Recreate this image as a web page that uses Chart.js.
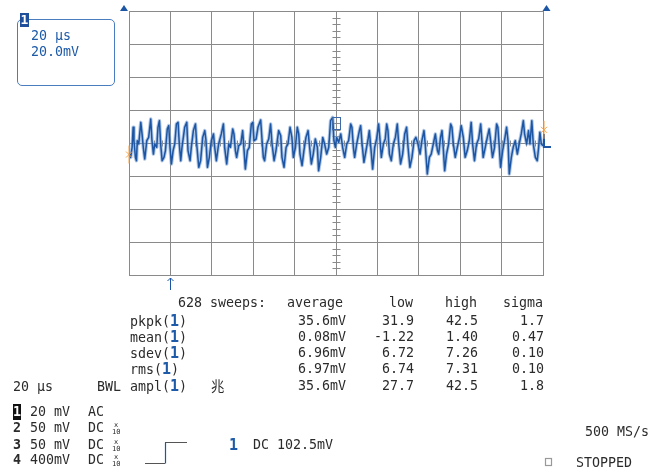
<!DOCTYPE html>
<html>
<head>
<meta charset="utf-8">
<script src="https://cdn.jsdelivr.net/npm/chart.js@4.4.1/dist/chart.umd.min.js"></script>
<style>
body { margin: 0; background: #fff; }
#wrap { position: relative; width: 654px; height: 472px; overflow: hidden;
        font-family: "DejaVu Sans Mono", monospace; font-size: 13.3px; color: #2b2b2b; }
#wrap canvas { position: absolute; left: 0; top: 0; }
.t { position: absolute; white-space: pre; line-height: 16px; }
.blue { color: #1d5aa8; }
.one { color: #1d5aa8; font-weight: bold; font-size: 15px; }
#box { position: absolute; left: 17px; top: 19px; width: 96px; height: 65px;
       border: 1.5px solid #4a7cc0; border-radius: 5px; }
#badge { position: absolute; left: 20px; top: 13px; width: 9px; height: 14px; background: #1f4f9a;
         color: #fff; font-weight: bold; font-size: 13px; line-height: 14px; text-align: center; }
.inv { background: #111; color: #fff; font-weight: bold; }
.x10 { position: absolute; font-size: 7px; line-height: 7px; text-align: center; width: 8px; }
</style>
</head>
<body>
<div id="wrap">
  <canvas id="scope" width="654" height="472"></canvas>
  <div id="box"></div>
  <div id="badge">1</div>
</div>
<script>
// acquired trace, channel 1 (time in µs, voltage in mV)
var timeUs = [
    0, 0.8, 1.5, 2.0, 2.4, 3.1, 3.6, 4.0, 4.7, 5.7,
    6.3, 6.9, 7.6, 8.6, 9.5, 10.5, 11.1, 11.8, 12.4, 13.4,
    14.0, 14.7, 15.3, 16.0, 16.9, 17.6, 18.5, 19.2, 19.8, 20.5,
    21.3, 22.1, 22.9, 23.7, 24.3, 25.0, 25.6, 26.9, 27.9, 28.5,
    29.5, 30.1, 31.1, 32.1, 32.7, 33.7, 34.6, 35.6, 36.6, 37.2,
    37.9, 38.8, 39.8, 40.8, 41.4, 42.2, 43.3, 44.6, 45.6, 46.2,
    47.2, 48.2, 49.0, 50.1, 50.7, 51.4, 52.0, 53.0, 54.0, 54.9,
    55.6, 56.2, 57.2, 58.1, 59.1, 59.8, 60.4, 61.4, 62.3, 63.6,
    64.3, 64.9, 65.5, 66.5, 67.5, 68.4, 69.1, 70.1, 71.0, 72.3,
    73.3, 73.9, 74.9, 75.9, 76.8, 77.8, 78.7, 79.4, 80.4, 81.3,
    82.0, 82.6, 83.6, 84.5, 85.5, 86.5, 87.1, 88.1, 89.0, 90.0,
    91.0, 91.6, 92.6, 93.6, 94.5, 95.5, 96.5, 97.4, 98.4, 99.0,
    99.7, 100.3, 101.3, 102.3, 103.2, 104.2, 105.2, 106.1, 107.1, 107.7,
    108.4, 109.0, 110.0, 111.3, 111.9, 112.6, 113.5, 114.5, 115.5, 116.1,
    117.1, 117.7, 118.7, 119.6, 120.6, 121.3, 121.9, 122.9, 123.8, 124.5,
    125.1, 125.8, 126.7, 127.7, 128.7, 129.6, 130.3, 131.2, 132.2, 133.2,
    134.1, 134.8, 135.7, 136.7, 137.7, 138.6, 139.6, 140.6, 141.5, 142.5,
    143.1, 144.1, 145.1, 146.0, 147.0, 148.0, 149.0, 149.6, 150.5, 151.2,
    151.8, 152.5, 153.4, 154.4, 155.4, 156.0, 156.7, 157.6, 158.6, 159.5,
    160.5, 161.5, 162.4, 163.4, 164.4, 165.3, 166.0, 166.9, 167.9, 168.9,
    169.9, 170.5, 171.1, 172.1, 173.1, 174.0, 174.7, 175.6, 176.6, 177.6,
    178.2, 178.9, 179.5, 180.5, 181.4, 182.4, 183.1, 183.7, 184.7, 185.6,
    186.6, 187.6, 188.5, 189.5, 190.5, 191.1, 192.1, 193.0, 193.7, 194.6,
    195.3, 196.3, 197.2, 197.9, 198.5, 199.2, 200.0
];
var traceMv = [
    -6.0, -8.7, -2.6, 9.5, 1.4, -8.7, -10.7, 1.4, -0.6, 12.5,
    5.5, -2.6, -9.7, 1.4, 3.4, 14.5, 1.4, -6.7, -0.6, -2.6,
    9.5, 13.5, -0.6, -10.7, -8.7, -4.6, 8.5, 10.5, -2.6, -12.7,
    -4.6, -0.6, 11.5, 12.5, -0.6, -10.7, -2.6, 9.5, 12.5, -4.6,
    -10.7, -2.6, 7.5, 11.5, -0.6, -14.7, -10.7, 3.4, 7.5, 1.4,
    -14.7, -8.7, 1.4, 5.5, -2.6, -10.7, -0.6, 5.5, 11.5, -2.6,
    -12.7, -0.6, -2.6, 8.5, 5.5, -4.6, -8.7, -1.6, -0.6, 7.5,
    -4.6, -15.8, -4.6, -2.6, 11.5, 12.5, 1.4, 2.4, 9.5, 13.9,
    1.4, -8.7, -10.7, -0.6, 2.4, 11.5, -0.6, -10.7, -4.6, 7.5,
    4.4, -8.7, -14.7, -2.6, -0.6, 9.5, 3.4, -8.7, -2.6, 9.5,
    5.5, -6.7, -13.7, -4.6, 3.4, 7.5, -0.6, -12.7, -6.7, 2.4,
    -2.6, -16.8, -8.7, 3.4, -0.6, -6.7, -2.6, 13.5, 15.5, 1.4,
    -2.6, 3.4, 0.4, 5.5, -2.6, -8.7, -0.6, 1.4, 11.5, 9.5,
    -2.6, -8.7, -0.6, 7.5, 10.5, -0.6, -11.7, -4.6, 2.4, 7.5,
    -6.7, -15.8, -2.6, 2.4, 11.5, 1.4, -8.7, -0.6, 2.4, 11.5,
    7.5, -6.7, -10.7, -0.6, 3.4, 11.5, -0.6, -12.7, -6.7, 5.5,
    9.5, -2.6, -14.7, -8.7, 1.4, 3.4, -0.6, -6.7, 1.4, 7.5,
    -0.6, -18.8, -8.7, -6.7, -0.6, 5.5, -4.6, -6.7, 3.4, 7.5,
    -2.6, -16.8, -6.7, -0.6, 11.5, 9.5, -0.6, -8.7, -2.6, 2.4,
    10.5, 3.4, -8.7, -4.6, 1.4, 12.5, -0.6, -10.7, -0.6, 2.4,
    11.5, 1.4, -8.7, -2.6, 3.4, 8.5, 1.4, -8.7, -2.6, 11.5,
    9.5, -2.6, -14.7, -4.6, 1.4, 9.5, 1.4, -18.8, -8.7, -2.6,
    1.4, -6.7, -0.6, 5.5, 13.5, 5.5, -0.6, 7.5, -0.6, 13.5,
    -0.6, -8.7, -10.7, -2.6, 6.5, -0.6, -1.6
];

// measurement table
var sweeps = 628;
var measNames = ['pkpk', 'mean', 'sdev', 'rms', 'ampl'];
var measAverage = ['35.6mV', '0.08mV', '6.96mV', '6.97mV', '35.6mV'];
var measLow = ['31.9', '-1.22', '6.72', '6.74', '27.7'];
var measHigh = ['42.5', '1.40', '7.26', '7.31', '42.5'];
var measSigma = ['1.7', '0.47', '0.10', '0.10', '1.8'];

// channel setup
var chanScale = ['20 mV', '50 mV', '50 mV', '400mV'];
var chanCoupling = ['AC', 'DC', 'DC', 'DC'];
var chanProbe = [false, true, true, true];

var wrap = document.getElementById('wrap');

function addText(html, x, cy, cls, alignRight) {
    var el = document.createElement('div');
    el.className = 't' + (cls ? ' ' + cls : '');
    el.innerHTML = html;
    el.style.top = (cy - 8) + 'px';
    if (alignRight) {
        el.style.right = (654 - x) + 'px';
    } else {
        el.style.left = x + 'px';
    }
    wrap.appendChild(el);
    return el;
}

// timebase box
addText('20 µs', 31, 36, 'blue');
addText('20.0mV', 31, 52, 'blue');

// table
var rowY = [321, 337, 353, 369, 386];
addText(sweeps + ' sweeps:', 178, 303);
addText('average', 287, 303);
addText('low', 389, 303);
addText('high', 445, 303);
addText('sigma', 503, 303);
for (var i = 0; i < measNames.length; i++) {
    addText(measNames[i] + '(<span class="one">1</span>)', 130, rowY[i]);
    addText(measAverage[i], 346, rowY[i], '', true);
    addText(measLow[i], 414, rowY[i], '', true);
    addText(measHigh[i], 478, rowY[i], '', true);
    addText(measSigma[i], 544, rowY[i], '', true);
}
addText('兆', 211, 386).style.fontFamily = '"Noto Sans CJK SC"';

addText('20 µs', 13, 387);
addText('BWL', 97, 387);

var chanY = [412, 428, 445, 460];
for (var c = 0; c < 4; c++) {
    if (c == 0) {
        addText('1', 13, chanY[c], 'inv');
    } else {
        addText(String(c + 1), 13, chanY[c]).style.fontWeight = 'bold';
    }
    addText(chanScale[c], 30, chanY[c]);
    addText(chanCoupling[c], 88, chanY[c]);
    if (chanProbe[c]) {
        var p = document.createElement('div');
        p.className = 'x10';
        p.innerHTML = 'x<br>10';
        p.style.left = '112px';
        p.style.top = (chanY[c] - 6) + 'px';
        wrap.appendChild(p);
    }
}
addText('1', 229, 445, 'one');
addText('DC 102.5mV', 253, 445);
addText('500 MS/s', 585, 432);
addText('STOPPED', 576, 463);

var points = timeUs.map(function(t, k) { return {x: t, y: traceMv[k]}; });

var gridGrey = '#8a8a8a';
var blue = '#1b55a3';

// center-axis minor ticks and screen markers
var scopeMarks = {
    id: 'scopeMarks',
    beforeDatasetsDraw: function(chart) {
        var ctx = chart.ctx, x = chart.scales.x, y = chart.scales.y;
        var cx = Math.round(x.getPixelForValue(100)) + 0.5;
        var cy = Math.round(y.getPixelForValue(0)) + 0.5;
        ctx.save();
        ctx.strokeStyle = gridGrey;
        ctx.lineWidth = 1;
        ctx.beginPath();
        for (var t = 4; t < 200; t += 4) {
            var px = Math.round(x.getPixelForValue(t)) + 0.5;
            ctx.moveTo(px, cy - 3);
            ctx.lineTo(px, cy + 3);
        }
        for (var v = -76; v < 80; v += 4) {
            var py = Math.round(y.getPixelForValue(v)) + 0.5;
            ctx.moveTo(cx - 4, py);
            ctx.lineTo(cx + 4, py);
        }
        ctx.stroke();
        ctx.restore();
    },
    afterDraw: function(chart) {
        var ctx = chart.ctx, a = chart.chartArea, x = chart.scales.x, y = chart.scales.y;
        var cy = y.getPixelForValue(0);
        ctx.save();
        // top triangles
        ctx.fillStyle = blue;
        [a.left - 5, a.right + 3.5].forEach(function(tx) {
            ctx.beginPath();
            ctx.moveTo(tx - 4, a.top);
            ctx.lineTo(tx + 4, a.top);
            ctx.lineTo(tx, a.top - 6);
            ctx.closePath();
            ctx.fill();
        });
        // trigger arrow under graticule
        var ax = Math.round(x.getPixelForValue(20)) + 0.5;
        ctx.strokeStyle = blue;
        ctx.lineWidth = 1;
        ctx.beginPath();
        ctx.moveTo(ax, a.bottom + 3);
        ctx.lineTo(ax, a.bottom + 15);
        ctx.moveTo(ax - 3, a.bottom + 6);
        ctx.lineTo(ax, a.bottom + 3);
        ctx.lineTo(ax + 3, a.bottom + 6);
        ctx.stroke();
        // center marker box
        var bx = x.getPixelForValue(100);
        ctx.strokeStyle = '#3d6aa8';
        ctx.strokeRect(Math.round(bx) - 3.5, Math.round(y.getPixelForValue(15.5)) + 0.5, 8, 12);
        // channel ground marker right
        ctx.strokeStyle = blue;
        ctx.lineWidth = 2;
        ctx.beginPath();
        ctx.moveTo(a.right + 1, cy - 9);
        ctx.lineTo(a.right + 1, cy + 4);
        ctx.lineTo(a.right + 8, cy + 4);
        ctx.stroke();
        // trigger level markers (orange)
        ctx.strokeStyle = '#f4a24a';
        ctx.lineWidth = 1;
        [[a.left, y.getPixelForValue(-7)], [a.right + 1, y.getPixelForValue(8)]].forEach(function(m) {
            ctx.beginPath();
            ctx.moveTo(m[0], m[1] - 9);
            ctx.lineTo(m[0], m[1] + 9);
            ctx.moveTo(m[0] - 3, m[1] - 3);
            ctx.lineTo(m[0] + 3, m[1] + 3);
            ctx.moveTo(m[0] - 3, m[1] + 3);
            ctx.lineTo(m[0] + 3, m[1] - 3);
            ctx.stroke();
        });
        // trigger slope symbol
        ctx.lineWidth = 1.2;
        ctx.strokeStyle = '#555';
        ctx.beginPath();
        ctx.moveTo(145, 463.5);
        ctx.lineTo(165, 463.5);
        ctx.moveTo(165, 442.5);
        ctx.lineTo(187, 442.5);
        ctx.stroke();
        ctx.strokeStyle = blue;
        ctx.beginPath();
        ctx.moveTo(165.5, 463.5);
        ctx.lineTo(165.5, 442.5);
        ctx.stroke();
        // stopped indicator square
        ctx.strokeStyle = '#999';
        ctx.strokeRect(545.5, 458.5, 6, 7);
        ctx.restore();
    }
};

var ctx = document.getElementById('scope').getContext('2d');
var scopeChart = new Chart(ctx, {
    type: 'line',
    data: {
        datasets: [{
            data: points,
            borderColor: blue,
            borderWidth: 1.5,
            borderJoinStyle: 'round',
            pointRadius: 0,
            tension: 0,
            order: 0
        }, {
            data: points,
            borderColor: 'rgba(120,158,210,0.6)',
            borderWidth: 3.5,
            borderJoinStyle: 'round',
            borderCapStyle: 'round',
            pointRadius: 0,
            tension: 0,
            order: 1
        }]
    },
    options: {
        responsive: false,
        animation: false,
        events: [],
        layout: {
            padding: {left: 129, right: 111, top: 11, bottom: 197}
        },
        plugins: {
            legend: {display: false},
            tooltip: {enabled: false}
        },
        scales: {
            x: {
                type: 'linear',
                min: 0,
                max: 200,
                ticks: {display: false, stepSize: 20},
                grid: {color: gridGrey, lineWidth: 1, drawTicks: false},
                border: {color: gridGrey}
            },
            y: {
                type: 'linear',
                min: -80,
                max: 80,
                ticks: {display: false, stepSize: 20},
                grid: {color: gridGrey, lineWidth: 1, drawTicks: false},
                border: {color: gridGrey}
            }
        }
    },
    plugins: [scopeMarks]
});
</script>
</body>
</html>
